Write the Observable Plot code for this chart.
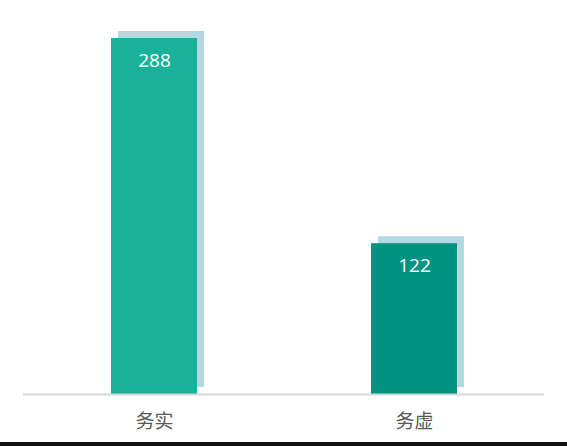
<!DOCTYPE html>
<html>
<head>
<meta charset="utf-8">
<script src="https://cdn.jsdelivr.net/npm/d3@7"></script>
<script src="https://cdn.jsdelivr.net/npm/@observablehq/plot@0.6"></script>
<style>
  html, body { margin: 0; padding: 0; background: #fff; }
  #chart svg { display: block; }
  #border { height: 4px; background: #111; }
</style>
</head>
<body>
<div id="chart"></div>
<div id="border"></div>
<script>
const categories = ["务实", "务虚"];
const values = [288, 122];
const colors = ["#1ab19a", "#009382"];
const shadowColor = "#b3d8df";

const data = categories.map((c, i) => ({category: c, value: values[i], color: colors[i]}));

const chart = Plot.plot({
  width: 567,
  height: 442,
  marginLeft: 23,
  marginRight: 23,
  marginTop: 0,
  marginBottom: 48,
  style: {fontFamily: "'Noto Sans CJK SC', 'Noto Sans', sans-serif", background: "#fff"},
  x: {domain: categories, paddingInner: 0.67, paddingOuter: 0.334, label: null},
  y: {domain: [0, 288], range: [394, 38], axis: null},
  color: {type: "identity"},
  marks: [
    Plot.barY(data, {x: "category", y: "value", fill: shadowColor, dx: 7, dy: -7}),
    Plot.barY(data, {x: "category", y: "value", fill: "color"}),
    Plot.ruleY([0], {stroke: "#d6d6d6", strokeWidth: 2}),
    Plot.text(data, {x: "category", y: "value", text: d => String(d.value), dy: 22, fill: "#fff", fontSize: 19, fontFamily: "'Open Sans', 'Noto Sans', sans-serif"}),
    Plot.axisX({tickSize: 0, tickPadding: 20, fontSize: 19, color: "#595959", label: null})
  ]
});
document.getElementById("chart").appendChild(chart);
</script>
</body>
</html>
